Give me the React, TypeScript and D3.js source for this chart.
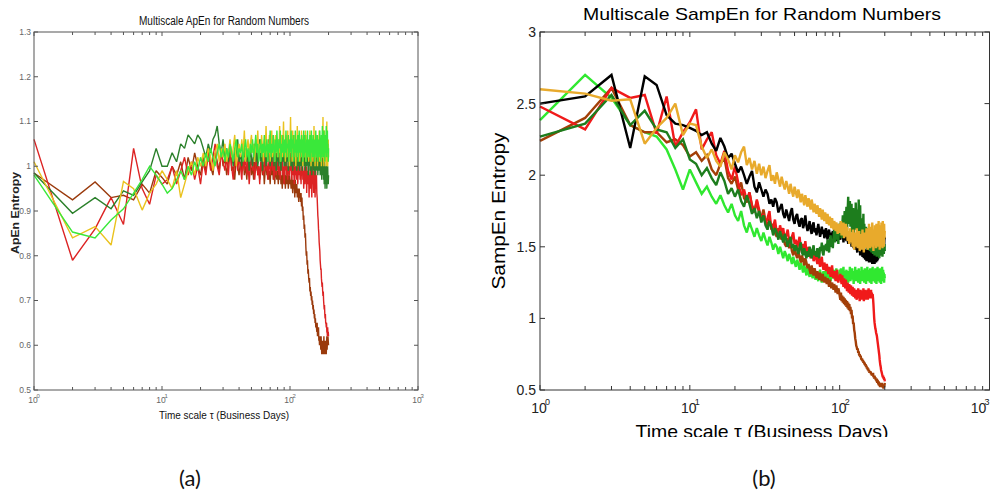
import React from 'react';
import * as d3 from 'd3';

// ---------- DATA ----------
// time scales tau = 1..200 business days
const scales: number[] = d3.range(1, 201);

// (a) Multiscale ApEn
const apenBrown = [
  .985,.925,.965,.93,.935,.925,.96,.94,.99,.975,
  .96,1.0,.98,1.01,.97,1.02,.99,1.03,1.0,.98,
  1.02,.99,1.04,1.0,.98,1.03,1.01,.99,1.04,1.0,
  1.02,.98,1.01,1.05,.99,1.0,.97,1.02,1.0,.98,
  1.01,.99,1.03,.98,1.0,.97,1.02,.99,1.01,.98,
  1.0,.97,1.01,.99,1.02,.98,1.0,.97,.99,1.01,
  .98,1.0,.96,.99,1.01,.98,1.0,.97,.99,.96,
  1.0,.98,1.01,.97,.99,.96,1.0,.98,.97,.99,
  .96,.99,.97,1.0,.96,.98,.95,.99,.97,.96,
  .99,.95,.98,.97,.96,.99,.95,.97,.98,.96,
  .97,.95,.98,.96,.94,.97,.95,.96,.93,.97,
  .95,.94,.96,.93,.95,.94,.92,.95,.93,.94,
  .92,.94,.91,.93,.90,.91,.88,.89,.86,.87,
  .84,.85,.82,.80,.81,.78,.79,.76,.77,.75,
  .74,.75,.72,.73,.71,.72,.70,.71,.69,.70,
  .68,.69,.67,.68,.66,.67,.65,.66,.64,.65,
  .64,.63,.65,.62,.63,.62,.64,.61,.62,.60,
  .62,.60,.61,.59,.62,.60,.58,.61,.59,.60,
  .58,.61,.59,.62,.58,.60,.61,.58,.60,.59,
  .61,.58,.60,.62,.59,.61,.60,.62,.61,.60
];
const apenRed = [
  1.06,.79,.86,.93,.87,1.04,.95,.915,.98,.96,
  .97,1.0,.96,.99,1.02,.98,1.01,.97,1.0,.96,
  1.01,.98,1.03,.99,1.02,1.05,1.0,.98,1.03,1.01,
  .99,1.02,.98,1.04,1.0,.97,1.01,1.03,.99,1.02,
  1.0,.97,1.02,.99,1.03,.98,1.01,.96,1.0,1.02,
  .99,1.01,.97,1.0,1.03,.98,1.0,.96,1.01,.99,
  1.02,.98,1.0,1.04,.99,1.01,.97,1.0,1.02,.98,
  1.0,1.05,.99,1.01,.97,1.0,1.03,.98,1.01,.99,
  1.02,.98,1.0,.97,1.01,.99,1.03,.98,1.0,.96,
  1.01,.99,1.02,.98,1.0,.97,1.01,1.0,.98,1.02,
  .99,1.01,.97,1.0,.98,1.02,.99,.96,1.0,.98,
  1.01,.97,.99,1.0,.96,.99,1.02,.98,1.0,.97,
  .99,.96,1.0,.98,1.01,.97,.99,.95,.98,1.0,
  .96,.99,.97,1.0,.94,.98,.99,.96,1.0,.97,
  .93,.98,.97,1.0,.95,.99,.96,.93,.98,1.0,
  .96,.99,.94,.98,.97,1.0,.93,.97,.99,.95,
  .98,.94,.93,.91,.89,.88,.86,.85,.83,.82,
  .81,.79,.78,.77,.77,.75,.74,.73,.74,.72,
  .71,.72,.70,.69,.68,.69,.67,.66,.67,.65,
  .65,.64,.65,.63,.63,.62,.64,.62,.63,.62
];
const apenDarkGreen = [
  .985,.895,.93,.905,.945,.935,.965,.99,1.04,1.0,
  1.0,1.03,1.01,1.05,1.04,1.07,1.06,1.05,1.07,1.06,
  1.04,1.02,1.05,1.03,1.06,1.07,1.09,1.05,1.03,1.06,
  1.02,1.04,1.01,1.05,1.03,1.0,1.04,1.02,1.06,1.01,
  1.03,1.0,1.05,1.02,1.04,1.01,1.03,.99,1.04,1.02,
  1.0,1.03,1.05,1.01,1.04,1.0,1.02,1.06,1.01,1.03,
  .99,1.04,1.02,1.05,1.0,1.03,1.01,1.06,1.02,1.0,
  1.04,1.01,1.03,1.07,1.0,1.02,1.05,.99,1.03,1.01,
  1.04,1.0,1.06,1.02,.99,1.03,1.05,1.01,1.04,1.0,
  1.02,1.06,1.0,1.03,1.01,1.05,.99,1.02,1.04,1.0,
  1.03,1.0,1.05,1.02,.99,1.04,1.01,1.06,1.0,1.03,
  1.01,1.05,.99,1.03,1.06,1.0,1.02,1.04,.99,1.03,
  1.05,1.0,1.02,1.06,.99,1.03,1.01,1.05,1.0,1.02,
  1.04,.99,1.02,1.05,1.0,1.03,1.01,1.04,.98,1.02,
  1.05,1.0,1.03,.99,1.04,1.01,1.03,.98,1.02,1.05,
  1.0,1.02,.99,1.04,1.01,1.03,.98,1.02,1.0,1.04,
  .99,1.02,1.0,1.03,.98,1.01,1.04,.99,1.02,1.0,
  1.03,.98,1.01,.99,1.04,1.0,.97,1.02,.99,1.01,
  .98,1.02,.97,1.0,.96,1.01,.98,.95,1.0,.97,
  .99,.96,1.01,.95,.98,.96,1.0,.97,.96,.98
];
const apenYellow = [
  1.01,.84,.865,.824,.966,.95,.902,.94,.96,.99,
  .97,.95,.99,.93,.96,.99,1.01,.98,1.02,1.0,
  1.03,1.0,1.04,1.02,.99,1.03,1.05,1.01,1.04,1.02,
  1.05,1.01,1.03,1.06,1.02,1.04,1.07,1.0,1.03,1.05,
  1.02,1.06,1.03,1.08,1.01,1.04,1.06,1.02,1.05,1.07,
  1.03,1.05,1.01,1.06,1.04,1.08,1.02,1.05,1.03,1.07,
  1.04,1.01,1.06,1.03,1.09,1.02,1.05,1.03,1.07,1.01,
  1.05,1.08,1.02,1.04,1.06,1.01,1.07,1.03,1.05,1.02,
  1.06,1.03,1.09,1.01,1.05,1.07,1.02,1.04,1.10,1.03,
  1.05,1.01,1.07,1.04,1.02,1.08,1.03,1.06,1.0,1.05,
  1.11,1.03,1.06,1.01,1.08,1.04,1.02,1.07,1.03,1.05,
  1.0,1.06,1.04,1.09,1.02,1.05,1.03,1.07,1.01,1.04,
  1.06,1.02,1.08,1.03,1.05,1.0,1.07,1.04,1.02,1.06,
  1.03,1.08,1.01,1.05,1.03,1.07,1.02,1.04,1.06,1.01,
  1.05,1.03,1.08,1.02,1.06,1.0,1.04,1.07,1.03,1.05,
  1.01,1.06,1.03,1.09,1.02,1.05,1.0,1.04,1.07,1.02,
  1.05,1.03,1.07,1.0,1.04,1.06,1.02,1.05,1.08,1.03,
  1.01,1.05,1.02,1.06,1.03,1.0,1.04,1.07,1.02,1.05,
  1.11,1.03,1.06,1.0,1.04,1.08,1.02,1.05,1.01,1.03,
  1.06,1.0,1.04,1.10,1.02,1.05,1.0,1.03,1.06,1.02
];
const apenLightGreen = [
  .98,.853,.84,.88,.905,.94,.97,1.0,.98,.96,
  .94,.95,.97,.99,.97,1.0,.98,1.01,.99,1.02,
  1.0,1.03,1.01,1.04,1.02,1.0,1.03,1.05,1.02,1.04,
  1.01,1.04,1.02,1.05,1.03,1.01,1.04,1.06,1.02,1.04,
  1.03,1.05,1.01,1.04,1.06,1.02,1.04,1.01,1.05,1.03,
  1.06,1.02,1.04,1.07,1.03,1.05,1.01,1.04,1.06,1.02,
  1.05,1.03,1.07,1.02,1.04,1.06,1.01,1.05,1.03,1.08,
  1.02,1.05,1.03,1.07,1.04,1.01,1.06,1.03,1.08,1.04,
  1.02,1.06,1.04,1.08,1.01,1.05,1.03,1.07,1.04,1.02,
  1.06,1.03,1.08,1.02,1.05,1.04,1.07,1.01,1.06,1.03,
  1.05,1.08,1.02,1.06,1.04,1.07,1.01,1.05,1.03,1.08,
  1.04,1.02,1.06,1.03,1.07,1.01,1.05,1.08,1.03,1.06,
  1.02,1.05,1.07,1.03,1.06,1.01,1.04,1.08,1.02,1.05,
  1.07,1.03,1.05,1.01,1.06,1.04,1.08,1.02,1.05,1.03,
  1.06,1.02,1.07,1.04,1.01,1.05,1.08,1.03,1.06,1.02,
  1.05,1.07,1.02,1.04,1.06,1.01,1.05,1.03,1.08,1.04,
  1.02,1.06,1.04,1.07,1.01,1.05,1.03,1.06,1.02,1.05,
  1.08,1.03,1.06,1.01,1.04,1.07,1.02,1.05,1.09,1.04,
  1.06,1.02,1.05,1.08,1.03,1.06,1.01,1.04,1.07,1.03,
  1.05,1.09,1.02,1.06,1.04,1.08,1.03,1.05,1.01,1.04
];

// (b) Multiscale SampEn
const sampBlack = [
  2.50,2.55,2.70,2.19,2.69,2.63,2.42,2.36,2.35,2.33,
  2.31,2.28,2.3,2.22,2.17,2.26,2.2,2.12,2.15,2.08,
  2.02,2.06,2.0,1.94,1.99,2.03,1.92,1.88,1.95,1.9,
  1.85,1.9,1.87,1.8,1.83,1.78,1.84,1.81,1.74,1.77,
  1.8,1.73,1.7,1.76,1.72,1.68,1.74,1.77,1.69,1.66,
  1.71,1.73,1.67,1.64,1.69,1.7,1.63,1.66,1.72,1.65,
  1.61,1.64,1.68,1.62,1.59,1.65,1.67,1.6,1.63,1.58,
  1.62,1.66,1.61,1.57,1.6,1.64,1.59,1.62,1.56,1.6,
  1.63,1.58,1.55,1.6,1.62,1.57,1.6,1.54,1.58,1.61,
  1.56,1.59,1.63,1.57,1.54,1.6,1.58,1.55,1.61,1.57,
  1.55,1.59,1.62,1.56,1.6,1.53,1.58,1.55,1.61,1.57,
  1.54,1.6,1.56,1.52,1.58,1.55,1.6,1.53,1.57,1.5,
  1.56,1.52,1.58,1.49,1.55,1.51,1.57,1.48,1.54,1.5,
  1.46,1.53,1.49,1.55,1.47,1.52,1.44,1.5,1.46,1.53,
  1.48,1.43,1.51,1.46,1.42,1.49,1.45,1.41,1.48,1.44,
  1.4,1.47,1.43,1.49,1.41,1.46,1.39,1.44,1.48,1.42,
  1.45,1.39,1.47,1.42,1.38,1.45,1.41,1.48,1.4,1.43,
  1.38,1.46,1.41,1.44,1.39,1.47,1.42,1.4,1.45,1.41,
  1.48,1.42,1.52,1.44,1.5,1.46,1.56,1.48,1.58,1.52,
  1.6,1.5,1.62,1.45,1.58,1.53,1.61,1.49,1.57,1.55
];
const sampRed = [
  2.48,2.32,2.61,2.54,2.56,2.29,2.55,2.20,2.30,2.37,
  2.46,2.18,2.25,2.3,2.14,2.08,2.17,2.03,1.97,2.06,
  1.95,1.86,1.9,1.82,1.88,1.78,1.74,1.83,1.76,1.69,
  1.73,1.66,1.7,1.75,1.62,1.64,1.69,1.6,1.57,1.65,
  1.6,1.63,1.55,1.58,1.62,1.54,1.51,1.57,1.6,1.52,
  1.55,1.49,1.53,1.57,1.5,1.46,1.52,1.48,1.54,1.47,
  1.44,1.5,1.46,1.42,1.48,1.45,1.4,1.43,1.47,1.41,
  1.38,1.44,1.4,1.36,1.41,1.43,1.37,1.34,1.39,1.36,
  1.33,1.38,1.35,1.31,1.36,1.33,1.29,1.34,1.37,1.3,
  1.28,1.33,1.3,1.26,1.31,1.34,1.27,1.25,1.3,1.27,
  1.31,1.27,1.24,1.3,1.26,1.22,1.28,1.24,1.21,1.27,
  1.23,1.19,1.25,1.21,1.18,1.24,1.2,1.17,1.23,1.19,
  1.16,1.22,1.18,1.15,1.21,1.17,1.14,1.2,1.16,1.13,
  1.19,1.15,1.21,1.14,1.18,1.12,1.17,1.2,1.14,1.18,
  1.13,1.19,1.15,1.21,1.12,1.17,1.2,1.14,1.18,1.13,
  1.19,1.15,1.2,1.13,1.17,1.21,1.14,1.18,1.15,1.19,
  1.16,1.2,1.14,1.18,1.15,1.17,1.14,1.1,1.05,1.0,
  .97,.95,.93,.92,.9,.89,.88,.86,.84,.82,
  .8,.78,.76,.74,.71,.69,.67,.66,.64,.63,
  .62,.61,.6,.59,.6,.58,.59,.57,.58,.56
];
const sampBrown = [
  2.24,2.40,2.61,2.35,2.30,2.30,2.23,2.25,2.21,2.13,
  2.16,2.1,2.14,2.04,2.0,2.08,2.12,1.98,1.94,1.99,
  1.9,1.95,1.84,1.81,1.88,1.79,1.75,1.82,1.73,1.7,
  1.76,1.68,1.64,1.7,1.63,1.66,1.6,1.57,1.63,1.58,
  1.55,1.6,1.52,1.5,1.56,1.49,1.53,1.47,1.44,1.5,
  1.45,1.42,1.47,1.43,1.39,1.44,1.41,1.37,1.42,1.39,
  1.35,1.38,1.34,1.31,1.37,1.33,1.3,1.35,1.32,1.28,
  1.33,1.3,1.27,1.32,1.29,1.26,1.31,1.28,1.25,1.29,
  1.27,1.24,1.28,1.25,1.22,1.27,1.24,1.21,1.25,1.23,
  1.2,1.24,1.21,1.18,1.23,1.2,1.17,1.21,1.19,1.16,
  1.13,1.18,1.12,1.16,1.11,1.15,1.1,1.14,1.09,1.13,
  1.08,1.12,1.07,1.11,1.06,1.1,1.05,1.08,1.03,1.06,
  1.0,1.02,.96,.97,.92,.9,.86,.84,.81,.8,
  .78,.79,.76,.77,.74,.75,.73,.74,.72,.71,
  .72,.7,.71,.69,.7,.68,.69,.67,.68,.66,
  .67,.65,.66,.64,.65,.63,.64,.62,.63,.62,
  .63,.61,.62,.6,.61,.6,.62,.59,.6,.58,
  .6,.58,.59,.57,.58,.56,.58,.55,.57,.56,
  .54,.56,.53,.55,.54,.52,.55,.53,.54,.52,
  .55,.53,.52,.54,.53,.51,.54,.52,.53,.55
];
const sampDarkGreen = [
  2.27,2.36,2.56,2.35,2.45,2.32,2.30,2.19,2.25,2.11,
  2.08,2.0,2.05,1.98,1.93,2.02,1.96,1.87,1.91,1.85,
  1.9,1.82,1.78,1.86,1.8,1.73,1.77,1.7,1.75,1.67,
  1.72,1.65,1.62,1.68,1.64,1.58,1.63,1.6,1.55,1.61,
  1.57,1.53,1.59,1.55,1.5,1.54,1.57,1.49,1.52,1.47,
  1.51,1.48,1.45,1.5,1.53,1.46,1.44,1.49,1.45,1.42,
  1.47,1.43,1.5,1.46,1.42,1.48,1.51,1.44,1.47,1.43,
  1.49,1.45,1.42,1.5,1.47,1.53,1.46,1.44,1.51,1.48,
  1.52,1.47,1.55,1.5,1.46,1.53,1.58,1.5,1.55,1.49,
  1.57,1.62,1.53,1.58,1.64,1.55,1.6,1.52,1.66,1.58,
  1.62,1.68,1.56,1.64,1.72,1.58,1.66,1.75,1.6,1.7,
  1.78,1.62,1.74,1.85,1.66,1.76,1.82,1.64,1.72,1.8,
  1.6,1.7,1.77,1.58,1.68,1.75,1.62,1.81,1.66,1.71,
  1.59,1.76,1.65,1.83,1.6,1.72,1.79,1.57,1.7,1.64,
  1.55,1.68,1.6,1.73,1.52,1.66,1.58,1.62,1.5,1.64,
  1.56,1.6,1.48,1.63,1.54,1.58,1.5,1.61,1.47,1.57,
  1.52,1.6,1.46,1.55,1.5,1.58,1.45,1.53,1.49,1.56,
  1.44,1.52,1.48,1.57,1.46,1.51,1.43,1.55,1.49,1.47,
  1.53,1.45,1.5,1.42,1.55,1.47,1.51,1.44,1.56,1.48,
  1.46,1.52,1.43,1.5,1.47,1.54,1.45,1.49,1.52,1.47
];
const sampLightGreen = [
  2.385,2.70,2.54,2.35,2.30,2.27,2.18,2.04,1.90,2.04,
  1.95,1.87,1.92,1.85,1.8,1.86,1.79,1.74,1.8,1.72,
  1.68,1.75,1.65,1.6,1.67,1.62,1.57,1.63,1.58,1.54,
  1.6,1.55,1.51,1.57,1.53,1.48,1.52,1.5,1.45,1.5,
  1.46,1.42,1.47,1.44,1.4,1.45,1.42,1.38,1.43,1.39,
  1.36,1.41,1.38,1.34,1.39,1.36,1.32,1.37,1.34,1.3,
  1.35,1.32,1.29,1.34,1.31,1.28,1.33,1.3,1.27,1.32,
  1.29,1.26,1.31,1.34,1.28,1.25,1.3,1.33,1.27,1.3,
  1.33,1.28,1.25,1.31,1.34,1.29,1.26,1.32,1.35,1.28,
  1.31,1.34,1.27,1.3,1.35,1.29,1.26,1.32,1.3,1.34,
  1.29,1.35,1.26,1.32,1.28,1.36,1.27,1.33,1.24,1.3,
  1.34,1.27,1.31,1.25,1.33,1.28,1.36,1.26,1.32,1.29,
  1.35,1.27,1.31,1.24,1.33,1.29,1.36,1.26,1.3,1.34,
  1.27,1.32,1.25,1.35,1.28,1.31,1.24,1.33,1.29,1.36,
  1.26,1.3,1.34,1.27,1.32,1.25,1.35,1.28,1.31,1.24,
  1.33,1.29,1.36,1.26,1.3,1.34,1.27,1.32,1.25,1.35,
  1.28,1.31,1.24,1.33,1.29,1.36,1.26,1.3,1.34,1.27,
  1.32,1.25,1.35,1.28,1.31,1.24,1.33,1.29,1.36,1.26,
  1.3,1.34,1.27,1.32,1.25,1.35,1.28,1.31,1.24,1.33,
  1.29,1.36,1.26,1.3,1.34,1.27,1.32,1.25,1.31,1.28
];
const sampGold = [
  2.60,2.57,2.52,2.53,2.22,2.33,2.40,2.50,2.28,2.36,
  2.35,2.2,2.12,2.18,2.1,2.06,2.16,2.11,2.04,2.14,
  2.09,2.16,2.2,2.07,2.12,2.04,2.1,2.01,2.08,2.0,
  2.06,1.98,2.03,2.07,1.96,2.0,1.94,2.02,1.97,1.92,
  1.99,1.94,1.9,1.96,1.92,1.87,1.94,1.89,1.85,1.92,
  1.88,1.84,1.9,1.86,1.81,1.87,1.83,1.79,1.86,1.82,
  1.78,1.84,1.8,1.76,1.83,1.79,1.74,1.8,1.77,1.73,
  1.79,1.75,1.71,1.77,1.73,1.69,1.76,1.72,1.68,1.74,
  1.7,1.66,1.73,1.69,1.65,1.71,1.67,1.63,1.7,1.66,
  1.62,1.68,1.65,1.61,1.67,1.63,1.59,1.66,1.62,1.6,
  1.61,1.68,1.58,1.65,1.6,1.67,1.56,1.63,1.59,1.66,
  1.57,1.64,1.54,1.61,1.58,1.52,1.63,1.56,1.6,1.53,
  1.59,1.5,1.62,1.55,1.48,1.6,1.53,1.57,1.5,1.63,
  1.54,1.49,1.58,1.52,1.61,1.47,1.56,1.51,1.59,1.48,
  1.55,1.62,1.5,1.57,1.46,1.6,1.53,1.49,1.58,1.52,
  1.63,1.5,1.56,1.48,1.61,1.54,1.66,1.51,1.58,1.49,
  1.64,1.55,1.6,1.5,1.67,1.53,1.59,1.47,1.62,1.56,
  1.51,1.65,1.57,1.6,1.49,1.66,1.54,1.59,1.5,1.63,
  1.56,1.68,1.52,1.6,1.48,1.65,1.57,1.62,1.5,1.67,
  1.55,1.6,1.49,1.68,1.53,1.62,1.5,1.66,1.56,1.61
];

const decades = [1, 10, 100, 1000];
const decadeExps = ['0', '1', '2', '3'];
const apenTicks = [0.5, 0.6, 0.7, 0.8, 0.9, 1.0, 1.1, 1.2, 1.3];
const apenTickLabels = ['0.5', '0.6', '0.7', '0.8', '0.9', '1', '1.1', '1.2', '1.3'];
const sampTicks = [0.5, 1, 1.5, 2, 2.5, 3];
const sampTickLabels = ['0.5', '1', '1.5', '2', '2.5', '3'];

type Series = { values: number[]; color: string };

const apenSeries: Series[] = [
  { values: apenBrown, color: '#9a3a0c' },
  { values: apenRed, color: '#dc2323' },
  { values: apenDarkGreen, color: '#2b802b' },
  { values: apenYellow, color: '#eac21e' },
  { values: apenLightGreen, color: '#3ae83a' },
];
const sampSeries: Series[] = [
  { values: sampLightGreen, color: '#30e830' },
  { values: sampBrown, color: '#a33f08' },
  { values: sampRed, color: '#f01a1a' },
  { values: sampBlack, color: '#000000' },
  { values: sampDarkGreen, color: '#1d7d1d' },
  { values: sampGold, color: '#e8aa2c' },
];

const FONT = '"Liberation Sans", Arial, Helvetica, sans-serif';

const minorTicks: number[] = [];
[1, 10, 100].forEach((d) => {
  for (let k = 2; k <= 9; k++) minorTicks.push(d * k);
});

type PanelProps = {
  xRange: [number, number];
  yRange: [number, number];
  yDomain: [number, number];
  yTicks: number[];
  yTickLabels: string[];
  series: Series[];
  strokeW: number;
  axisColor: string;
  labelColor: string;
  tickFont: number;
  supFont: number;
  yLabelDx: number;
  xLabelY: number;
  supDx: number;
  supDy: number;
  majorLen: number;
  minorLen: number;
  lastLabelShift: number;
};

function Panel(p: PanelProps) {
  const x = d3.scaleLog().domain([1, 1000]).range(p.xRange);
  const y = d3.scaleLinear().domain(p.yDomain).range(p.yRange);
  const [x0, x1] = p.xRange;
  const [yb, yt] = p.yRange;
  const line = d3
    .line<[number, number]>()
    .x((d) => x(d[0]))
    .y((d) => y(d[1]));
  return (
    <g>
      {p.series.map((s, i) => {
        const pts = s.values.map((v, j) => [scales[j], v] as [number, number]);
        return (
          <path
            key={i}
            d={line(pts) || ''}
            fill="none"
            stroke={s.color}
            strokeWidth={p.strokeW}
            strokeLinejoin="miter"
            strokeMiterlimit={2}
          />
        );
      })}
      <rect x={x0} y={yt} width={x1 - x0} height={yb - yt} fill="none" stroke={p.axisColor} strokeWidth={1} />
      {decades.map((d, i) => {
        const lx = x(d) - 1 + (i === decades.length - 1 ? p.lastLabelShift : 0);
        return (
          <g key={'xd' + i}>
            <line x1={x(d)} x2={x(d)} y1={yb} y2={yb - p.majorLen} stroke={p.axisColor} />
            <line x1={x(d)} x2={x(d)} y1={yt} y2={yt + p.majorLen} stroke={p.axisColor} />
            <text x={lx} y={p.xLabelY} textAnchor="middle" fontFamily={FONT} fontSize={p.tickFont} fill={p.labelColor}>
              10
            </text>
            <text x={lx + p.supDx} y={p.xLabelY - p.supDy} fontFamily={FONT} fontSize={p.supFont} fill={p.labelColor}>
              {decadeExps[i]}
            </text>
          </g>
        );
      })}
      {minorTicks.map((m, i) => (
        <g key={'xm' + i}>
          <line x1={x(m)} x2={x(m)} y1={yb} y2={yb - p.minorLen} stroke={p.axisColor} />
          <line x1={x(m)} x2={x(m)} y1={yt} y2={yt + p.minorLen} stroke={p.axisColor} />
        </g>
      ))}
      {p.yTicks.map((t, i) => (
        <g key={'y' + i}>
          <line x1={x0} x2={x0 + p.majorLen} y1={y(t)} y2={y(t)} stroke={p.axisColor} />
          <line x1={x1} x2={x1 - p.majorLen} y1={y(t)} y2={y(t)} stroke={p.axisColor} />
          <text
            x={x0 - p.yLabelDx}
            y={y(t)}
            dy="0.35em"
            textAnchor="end"
            fontFamily={FONT}
            fontSize={p.tickFont}
            fill={p.labelColor}
          >
            {p.yTickLabels[i]}
          </text>
        </g>
      ))}
    </g>
  );
}

export default function App() {
  return (
    <svg width={992} height={500} style={{ position: 'absolute', left: 0, top: 0, background: '#fff' }}>
      <rect x={0} y={0} width={992} height={500} fill="#fff" />
      <defs>
        <clipPath id="clipB">
          <rect x={500} y={395} width={492} height={42} />
        </clipPath>
      </defs>

      {/* ---------- panel (a) ---------- */}
      <Panel
        xRange={[34, 418]}
        yRange={[390, 32]}
        yDomain={[0.5, 1.3]}
        yTicks={apenTicks}
        yTickLabels={apenTickLabels}
        series={apenSeries}
        strokeW={1.4}
        axisColor="#555"
        labelColor="#666"
        tickFont={8.5}
        supFont={6}
        yLabelDx={3}
        xLabelY={403}
        supDx={3.5}
        supDy={5}
        majorLen={4}
        minorLen={3}
        lastLabelShift={0}
      />
      <text x={224} y={25} textAnchor="middle" fontFamily={FONT} fontSize={12} textLength={170} lengthAdjust="spacingAndGlyphs" fill="#111">
        Multiscale ApEn for Random Numbers
      </text>
      <text x={224} y={419} textAnchor="middle" fontFamily={FONT} fontSize={11} textLength={130} lengthAdjust="spacingAndGlyphs" fill="#111">
        Time scale τ (Business Days)
      </text>
      <text
        transform="translate(19,213) rotate(-90)"
        textAnchor="middle"
        fontFamily={FONT}
        fontSize={10.5}
        fontWeight="bold"
        textLength={82}
        lengthAdjust="spacingAndGlyphs"
        fill="#222"
      >
        ApEn Entropy
      </text>
      <text x={190} y={486} textAnchor="middle" fontFamily="Lato, 'Open Sans', sans-serif" fontSize={22} fill="#111">
        (a)
      </text>

      {/* ---------- panel (b) ---------- */}
      <Panel
        xRange={[540, 989.5]}
        yRange={[390, 32]}
        yDomain={[0.5, 3]}
        yTicks={sampTicks}
        yTickLabels={sampTickLabels}
        series={sampSeries}
        strokeW={2.4}
        axisColor="#333"
        labelColor="#222"
        tickFont={14}
        supFont={9}
        yLabelDx={4}
        xLabelY={413}
        supDx={6}
        supDy={8}
        majorLen={5}
        minorLen={4}
        lastLabelShift={-10}
      />
      <text x={762} y={20} textAnchor="middle" fontFamily={FONT} fontSize={17} textLength={358} lengthAdjust="spacingAndGlyphs" fill="#000">
        Multiscale SampEn for Random Numbers
      </text>
      <g clipPath="url(#clipB)">
        <text x={762} y={438} textAnchor="middle" fontFamily={FONT} fontSize={19} textLength={253} lengthAdjust="spacingAndGlyphs" fill="#000">
          Time scale τ (Business Days)
        </text>
      </g>
      <text
        transform="translate(505,211) rotate(-90)"
        textAnchor="middle"
        fontFamily={FONT}
        fontSize={18}
        textLength={157}
        lengthAdjust="spacingAndGlyphs"
        fill="#000"
      >
        SampEn Entropy
      </text>
      <text x={764} y={486} textAnchor="middle" fontFamily="Lato, 'Open Sans', sans-serif" fontSize={22} fill="#111">
        (b)
      </text>
    </svg>
  );
}
